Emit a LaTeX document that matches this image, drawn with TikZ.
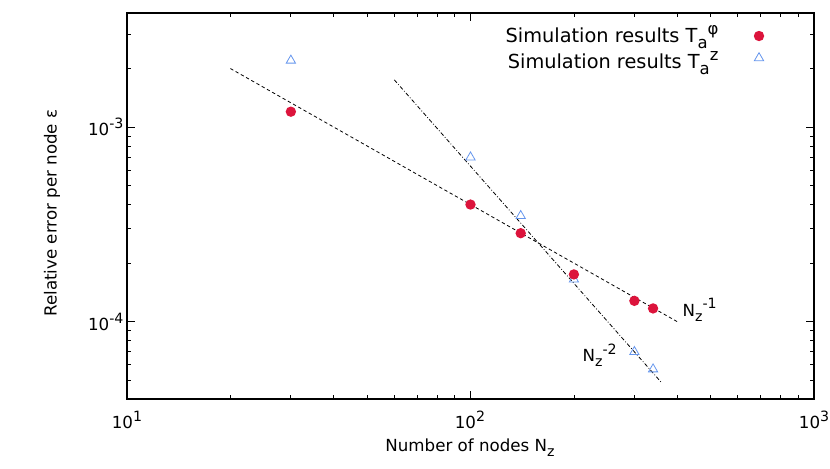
\documentclass[tikz,border=0pt]{standalone}
\usepackage{fontspec}
\setmainfont{DejaVu Sans}
\usepackage{tikz}
\usetikzlibrary{positioning,shapes.geometric}
\definecolor{dotred}{RGB}{220,20,60}
\definecolor{triblue}{RGB}{100,149,237}
\newcommand{\upscr}[1]{\raisebox{0.45em}{\scalebox{0.85}{#1}}}
\newcommand{\dnscr}[1]{\raisebox{-0.3em}{\scalebox{0.85}{#1}}}
\tikzset{
  declare function={px(\u)=127+343.5*(log10(\u)-1); py(\m,\e)=321.7-194.6*(log10(\m)+\e+4);},
  reddot/.style={circle,fill=dotred,inner sep=0pt,minimum size=7.8},
  bluetri/.style={regular polygon,regular polygon sides=3,draw=triblue,line width=0.6,inner sep=0pt,minimum size=8},
  lbl/.style={font=\fontsize{12.5}{14}\selectfont,inner sep=1pt},
  leglbl/.style={font=\fontsize{14.5}{16}\selectfont,inner sep=1pt},
}
\begin{document}
\begin{tikzpicture}[x=0.75pt,y=0.75pt,yscale=-1,xscale=1]
        \useasboundingbox (0,0) rectangle (830,468);
        
        %Frame
        \draw [line width=0.9]  (127,13) rectangle (814,399);
        
        %Ticks x
        \foreach \d in {10,100} {
          \foreach \m in {2,...,9} {
            \draw [line width=0.6] ({px(\d*\m)},399) -- ++(0,-4) ({px(\d*\m)},13) -- ++(0,4);
          }
        }
        \foreach \d in {10,100,1000} {
          \draw [line width=0.6] ({px(\d)},399) -- ++(0,-8) ({px(\d)},13) -- ++(0,8);
        }
        %Ticks y
        \foreach \m/\e in {5/-5,6/-5,7/-5,8/-5,9/-5,2/-4,3/-4,4/-4,5/-4,6/-4,7/-4,8/-4,9/-4,2/-3,3/-3} {
          \draw [line width=0.6] (127,{py(\m,\e)}) -- ++(4,0) (814,{py(\m,\e)}) -- ++(-4,0);
        }
        \foreach \e in {-4,-3} {
          \draw [line width=0.6] (127,{py(1,\e)}) -- ++(8,0) (814,{py(1,\e)}) -- ++(-8,0);
        }
        
        %Tick labels
        \node [lbl,anchor=east] (ym4) at (125,{py(1,-4)}) {10\upscr{-4}};
        \node [lbl,anchor=east] (ym3) at (125,{py(1,-3)}) {10\upscr{-3}};
        \node [lbl] (x1) at (127,420) {10\upscr{1}};
        \node [lbl] (x2) at (470,420) {10\upscr{2}};
        \node [lbl] (x3) at (814,420) {10\upscr{3}};
        
        %Axis titles
        \node [lbl] (xtitle) at (470,448) {Number of nodes N\dnscr{z}};
        \node [lbl,rotate=90] (ytitle) at (52,213) {Relative error per node ε};
        
        %Fit lines
        \draw [line width=0.6,dash pattern=on 2.5pt off 2pt] ({px(20)},{py(2,-3)}) -- ({px(400)},{py(1,-4)});
        \draw [line width=0.6,dash pattern=on 3pt off 1.5pt on 0.6pt off 1.5pt] ({px(60)},{py(1.75,-3)}) -- ({px(360)},{py(4.86,-5)});
        
        %Data
        \foreach \n/\u/\m/\e in {b1/30/2.2/-3,b2/100/7/-4,b3/140/3.5/-4,b4/200/1.65/-4,b5/300/7/-5,b6/340/5.7/-5} {
          \node [bluetri] (\n) at ({px(\u)},{py(\m,\e)}) {};
        }
        \foreach \n/\u/\m/\e in {r1/30/1.2/-3,r2/100/4/-4,r3/140/2.85/-4,r4/200/1.75/-4,r5/300/1.28/-4,r6/340/1.17/-4} {
          \node [reddot] (\n) at ({px(\u)},{py(\m,\e)}) {};
        }
        
        %Line labels
        \node [lbl,anchor=west] (slope1) at (681,310) {N\dnscr{z}\upscr{-1}};
        \node [lbl,anchor=west] (slope2) at (581,355) {N\dnscr{z}\upscr{-2}};
        
        %Legend
        \node [leglbl,anchor=east] (leg1) at (720,37) {Simulation results T\dnscr{a}\upscr{φ}};
        \node [leglbl,anchor=east] (leg2) at (720,63) {Simulation results T\dnscr{a}\upscr{z}};
        \node [reddot] (legdot) at (759,36) {};
        \node [bluetri] (legtri) at (759,58) {};
\end{tikzpicture}
\end{document}
